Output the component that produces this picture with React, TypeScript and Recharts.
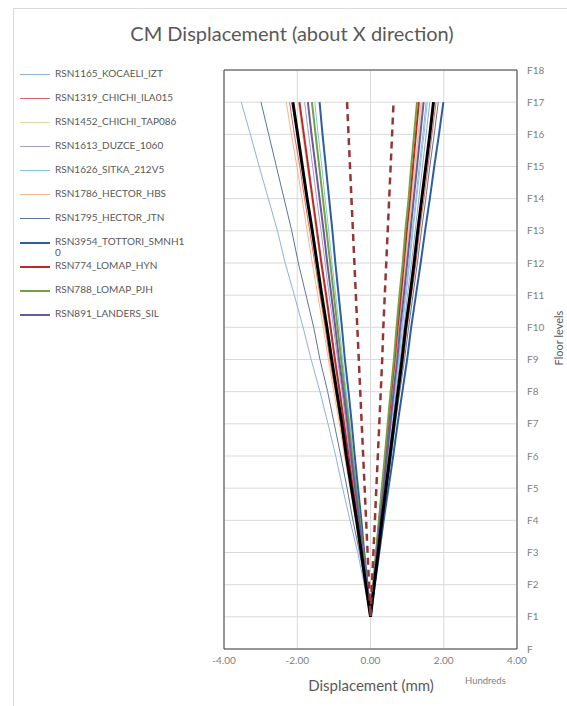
import { ScatterChart, Scatter, XAxis, YAxis, CartesianGrid, ReferenceArea } from 'recharts';

const floors = [1, 2, 3, 4, 5, 6, 7, 8, 9, 10, 11, 12, 13, 14, 15, 16, 17];
const floorTicks = [0, 1, 2, 3, 4, 5, 6, 7, 8, 9, 10, 11, 12, 13, 14, 15, 16, 17, 18];
const dispTicks = [-4, -2, 0, 2, 4];

// displacement (hundreds of mm) at F1..F17, negative and positive envelopes
const rsn1165Neg = [0, -0.17, -0.35, -0.56, -0.76, -0.95, -1.16, -1.38, -1.62, -1.84, -2.08, -2.33, -2.54, -2.79, -3.04, -3.28, -3.53];
const rsn1165Pos = [0, 0.09, 0.18, 0.27, 0.37, 0.47, 0.56, 0.66, 0.76, 0.85, 0.95, 1.05, 1.14, 1.24, 1.33, 1.43, 1.52];
const rsn1319Neg = [0, -0.13, -0.27, -0.40, -0.54, -0.69, -0.82, -0.96, -1.11, -1.24, -1.38, -1.52, -1.66, -1.80, -1.93, -2.08, -2.21];
const rsn1319Pos = [0, 0.11, 0.21, 0.32, 0.44, 0.55, 0.66, 0.78, 0.90, 1.00, 1.12, 1.24, 1.34, 1.46, 1.57, 1.68, 1.79];
const rsn1452Neg = [0, -0.12, -0.24, -0.36, -0.49, -0.61, -0.73, -0.86, -0.99, -1.11, -1.24, -1.37, -1.49, -1.61, -1.73, -1.86, -1.98];
const rsn1452Pos = [0, 0.08, 0.17, 0.25, 0.34, 0.43, 0.52, 0.61, 0.70, 0.78, 0.88, 0.97, 1.05, 1.14, 1.23, 1.32, 1.40];
const rsn1613Neg = [0, -0.11, -0.22, -0.32, -0.44, -0.56, -0.67, -0.78, -0.90, -1.01, -1.13, -1.24, -1.35, -1.47, -1.58, -1.69, -1.80];
const rsn1613Pos = [0, 0.10, 0.19, 0.29, 0.40, 0.50, 0.60, 0.70, 0.81, 0.91, 1.01, 1.12, 1.22, 1.32, 1.42, 1.52, 1.62];
const rsn1626Neg = [0, -0.09, -0.18, -0.27, -0.37, -0.47, -0.56, -0.66, -0.76, -0.85, -0.95, -1.05, -1.14, -1.24, -1.33, -1.43, -1.52];
const rsn1626Pos = [0, 0.09, 0.19, 0.28, 0.38, 0.48, 0.57, 0.67, 0.78, 0.87, 0.97, 1.07, 1.16, 1.26, 1.36, 1.46, 1.55];
const rsn1786Neg = [0, -0.14, -0.28, -0.41, -0.56, -0.71, -0.85, -1.00, -1.15, -1.29, -1.44, -1.59, -1.73, -1.87, -2.01, -2.16, -2.30];
const rsn1786Pos = [0, 0.08, 0.17, 0.25, 0.34, 0.43, 0.51, 0.60, 0.69, 0.77, 0.86, 0.95, 1.04, 1.12, 1.21, 1.30, 1.38];
const rsn1795Neg = [0, -0.14, -0.30, -0.48, -0.64, -0.81, -0.99, -1.17, -1.38, -1.55, -1.76, -1.97, -2.15, -2.36, -2.57, -2.78, -2.99];
const rsn1795Pos = [0, 0.11, 0.22, 0.33, 0.45, 0.57, 0.68, 0.80, 0.93, 1.04, 1.16, 1.28, 1.39, 1.51, 1.62, 1.74, 1.85];
const rsn3954Neg = [0, -0.08, -0.17, -0.25, -0.34, -0.43, -0.51, -0.60, -0.70, -0.78, -0.87, -0.96, -1.04, -1.13, -1.22, -1.31, -1.39];
const rsn3954Pos = [0, 0.12, 0.24, 0.36, 0.49, 0.62, 0.74, 0.87, 1.00, 1.11, 1.24, 1.37, 1.49, 1.62, 1.74, 1.87, 1.99];
const rsn774Neg = [0, -0.12, -0.23, -0.35, -0.48, -0.60, -0.72, -0.84, -0.97, -1.09, -1.21, -1.34, -1.46, -1.58, -1.70, -1.82, -1.94];
const rsn774Pos = [0, 0.08, 0.16, 0.24, 0.32, 0.41, 0.49, 0.57, 0.66, 0.74, 0.83, 0.91, 0.99, 1.08, 1.16, 1.24, 1.32];
const rsn788Neg = [0, -0.10, -0.19, -0.29, -0.39, -0.50, -0.59, -0.70, -0.80, -0.90, -1.00, -1.10, -1.20, -1.30, -1.40, -1.50, -1.60];
const rsn788Pos = [0, 0.08, 0.15, 0.23, 0.31, 0.39, 0.47, 0.55, 0.64, 0.71, 0.79, 0.88, 0.95, 1.04, 1.11, 1.19, 1.27];
const rsn891Neg = [0, -0.10, -0.21, -0.31, -0.42, -0.53, -0.63, -0.74, -0.86, -0.96, -1.07, -1.18, -1.28, -1.39, -1.50, -1.61, -1.71];
const rsn891Pos = [0, 0.09, 0.17, 0.26, 0.36, 0.45, 0.54, 0.63, 0.73, 0.81, 0.91, 1.00, 1.09, 1.18, 1.27, 1.36, 1.45];
const meanNeg = [0, -0.13, -0.25, -0.38, -0.52, -0.66, -0.78, -0.92, -1.06, -1.19, -1.33, -1.46, -1.59, -1.73, -1.86, -1.99, -2.12];
const meanPos = [0, 0.10, 0.21, 0.31, 0.42, 0.53, 0.64, 0.75, 0.86, 0.96, 1.08, 1.19, 1.29, 1.40, 1.51, 1.62, 1.72];
const limitNeg = [0, -0.04, -0.08, -0.12, -0.16, -0.20, -0.24, -0.28, -0.32, -0.36, -0.40, -0.44, -0.48, -0.52, -0.56, -0.60, -0.64];
const limitPos = [0, 0.04, 0.08, 0.12, 0.16, 0.20, 0.24, 0.28, 0.32, 0.35, 0.39, 0.43, 0.47, 0.51, 0.55, 0.59, 0.63];

const records = [
  { name: 'RSN1165_KOCAELI_IZT', neg: rsn1165Neg, pos: rsn1165Pos, color: '#8eb1dc', width: 1 },
  { name: 'RSN1319_CHICHI_ILA015', neg: rsn1319Neg, pos: rsn1319Pos, color: '#d9676a', width: 1 },
  { name: 'RSN1452_CHICHI_TAP086', neg: rsn1452Neg, pos: rsn1452Pos, color: '#d7dfa6', width: 1 },
  { name: 'RSN1613_DUZCE_1060', neg: rsn1613Neg, pos: rsn1613Pos, color: '#a79dc6', width: 1 },
  { name: 'RSN1626_SITKA_212V5', neg: rsn1626Neg, pos: rsn1626Pos, color: '#7cc8de', width: 1 },
  { name: 'RSN1786_HECTOR_HBS', neg: rsn1786Neg, pos: rsn1786Pos, color: '#f4b887', width: 1 },
  { name: 'RSN1795_HECTOR_JTN', neg: rsn1795Neg, pos: rsn1795Pos, color: '#60759a', width: 1 },
  { name: 'RSN3954_TOTTORI_SMNH10', neg: rsn3954Neg, pos: rsn3954Pos, color: '#2f5d9e', width: 2 },
  { name: 'RSN774_LOMAP_HYN', neg: rsn774Neg, pos: rsn774Pos, color: '#c0272d', width: 2 },
  { name: 'RSN788_LOMAP_PJH', neg: rsn788Neg, pos: rsn788Pos, color: '#76a140', width: 2 },
  { name: 'RSN891_LANDERS_SIL', neg: rsn891Neg, pos: rsn891Pos, color: '#6a5a9c', width: 2 },
];

const toPath = (neg: number[], pos: number[]) => [
  ...floors.map((f, i) => ({ x: neg[i], y: f })).reverse(),
  ...floors.map((f, i) => ({ x: pos[i], y: f })),
];

const noDot = () => <g />;
const font = 'Lato, "Open Sans", sans-serif';

export default function App() {
  return (
    <div style={{ position: 'absolute', left: 0, top: 0, width: 567, height: 706, overflow: 'hidden', background: '#fff', fontFamily: font }}>
      <div style={{ position: 'absolute', left: 13, top: 8, width: 600, height: 760, border: '1px solid #d9d9d9' }} />
      <div style={{ position: 'absolute', left: 0, top: 21, width: 584, textAlign: 'center', fontSize: 20, color: '#595959' }}>
        CM Displacement (about X direction)
      </div>

      <div style={{ position: 'absolute', left: 20, top: 68 }}>
        {records.map((r) => (
          <div key={r.name} style={{ display: 'flex', alignItems: 'flex-start', height: 24 }}>
            <div style={{ width: 30, height: r.width, background: r.color, marginTop: 6, flexShrink: 0 }} />
            <div style={{ marginLeft: 5, width: 133, fontSize: 10, lineHeight: '11px', color: '#595959', overflowWrap: 'anywhere' }}>
              {r.name}
            </div>
          </div>
        ))}
      </div>

      <ScatterChart width={567} height={706} margin={{ top: 70, right: 10, left: 224, bottom: 27 }} style={{ position: 'absolute', left: 0, top: 0 }}>
        <CartesianGrid stroke="#d9d9d9" />
        <XAxis
          type="number"
          dataKey="x"
          domain={[-4, 4]}
          ticks={dispTicks}
          tickFormatter={(v: number) => v.toFixed(2)}
          height={30}
          axisLine={false}
          tickLine={false}
          tick={{ fontSize: 10, fill: '#7f7f7f', fontFamily: font }}
        />
        <YAxis
          type="number"
          dataKey="y"
          orientation="right"
          domain={[0, 18]}
          ticks={floorTicks}
          interval={0}
          tickFormatter={(v: number) => (v === 0 ? 'F' : 'F' + v)}
          width={40}
          axisLine={false}
          tickLine={false}
          tickMargin={4}
          tick={{ fontSize: 10, fill: '#7f7f7f', fontFamily: font }}
        />
        <ReferenceArea x1={-4} x2={4} y1={0} y2={18} stroke="#404040" strokeWidth={1} fill="none" />
        {records.map((r) => (
          <Scatter
            key={r.name}
            name={r.name}
            data={toPath(r.neg, r.pos)}
            fill={r.color}
            line={{ strokeWidth: r.width }}
            lineType="joint"
            shape={noDot}
            isAnimationActive={false}
          />
        ))}
        <Scatter name="Mean" data={toPath(meanNeg, meanPos)} fill="#000000" line={{ strokeWidth: 3 }} lineType="joint" shape={noDot} isAnimationActive={false} />
        <Scatter name="Limit" data={toPath(limitNeg, limitPos)} fill="#943634" line={{ strokeWidth: 2.5, strokeDasharray: '7 5' }} lineType="joint" shape={noDot} isAnimationActive={false} />
      </ScatterChart>

      <div style={{ position: 'absolute', left: 221, top: 676, width: 300, textAlign: 'center', fontSize: 15, color: '#595959' }}>
        Displacement (mm)
      </div>
      <div style={{ position: 'absolute', left: 465, top: 675, fontSize: 9.5, color: '#7f7f7f' }}>Hundreds</div>
      <div style={{ position: 'absolute', left: 558, top: 338, transform: 'translate(-50%, -50%) rotate(-90deg)', whiteSpace: 'nowrap', fontSize: 11, color: '#595959' }}>
        Floor levels
      </div>
    </div>
  );
}
